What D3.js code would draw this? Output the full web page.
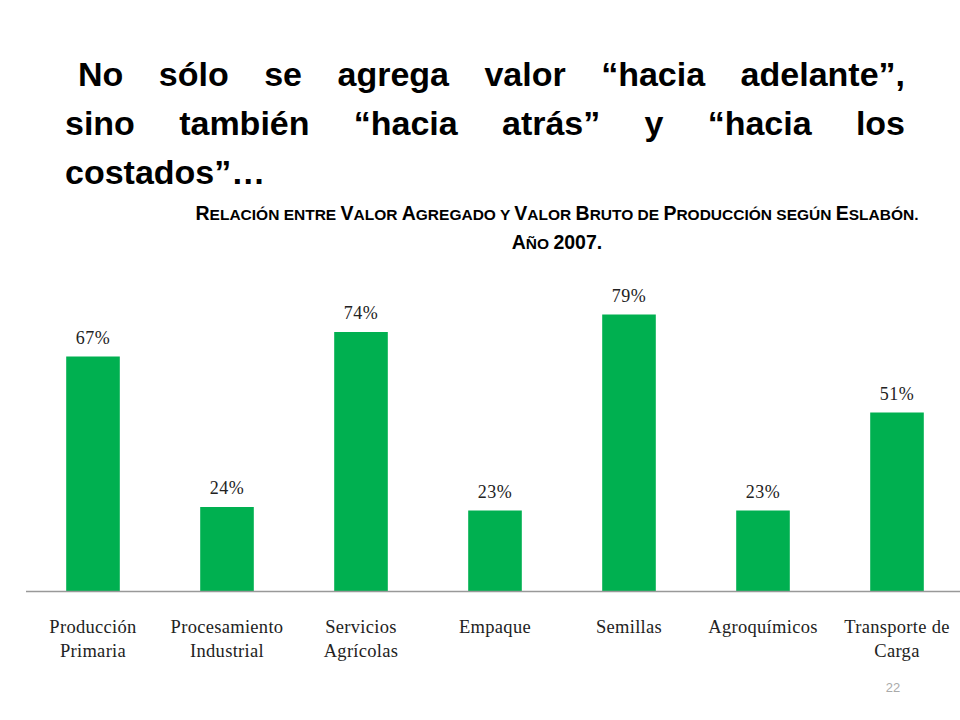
<!DOCTYPE html>
<html><head><meta charset="utf-8">
<script src="https://cdn.jsdelivr.net/npm/d3@7"></script>
<style>body{margin:0;background:#fff}</style>
</head><body>
<svg id="c" width="960" height="720"></svg>
<script>
var categories = [["Producción","Primaria"],["Procesamiento","Industrial"],["Servicios","Agrícolas"],["Empaque"],["Semillas"],["Agroquímicos"],["Transporte de","Carga"]];
var values = [67, 24, 74, 23, 79, 23, 51];

var svg = d3.select("#c");
var TF = 34;

// title, justified lines
var title = [
  {t:["No","sólo","se","agrega","valor","“hacia","adelante”,"], x0:78, x1:905, y:86},
  {t:["sino","también","“hacia","atrás”","y","“hacia","los"], x0:65, x1:905, y:135},
  {t:["costados”…"], x0:65, x1:905, y:184}
];
title.forEach(function(l, li){
  if (li == 2) {
    svg.append("text").attr("x", l.x0).attr("y", l.y).attr("font-family","Liberation Sans, Arial").attr("font-weight","bold").attr("font-size",TF).text(l.t[0]);
    return;
  }
  var widths = l.t.map(function(w){
    var tmp = svg.append("text").attr("font-family","Liberation Sans, Arial").attr("font-weight","bold").attr("font-size",TF).text(w);
    var wd = tmp.node().getComputedTextLength(); tmp.remove(); return wd;
  });
  var gap = (l.x1 - l.x0 - d3.sum(widths)) / (l.t.length - 1);
  var x = l.x0;
  l.t.forEach(function(w, i){
    svg.append("text").attr("x", x).attr("y", l.y).attr("font-family","Liberation Sans, Arial").attr("font-weight","bold").attr("font-size",TF).text(w);
    x += widths[i] + gap;
  });
});

// subtitle small caps
function smallCaps(y, parts){
  var t = svg.append("text").attr("x",557).attr("y",y).attr("text-anchor","middle")
    .attr("font-family","Liberation Sans, Arial").attr("font-weight","bold").attr("fill","#000");
  parts.forEach(function(p){
    t.append("tspan").attr("font-size",19.5).text(p[0]);
    if (p[1]) t.append("tspan").attr("font-size",15.5).text(p[1].toUpperCase());
  });
}
smallCaps(220, [["R","elación entre "],["V","alor "],["A","gregado y "],["V","alor "],["B","ruto de "],["P","roducción según "],["E","slabón."]]);
smallCaps(249, [["A","ño "],["2007.",""]]);

var x = d3.scaleBand().domain(d3.range(values.length)).range([26, 964]).paddingInner(0.6).paddingOuter(0.3);
var y = d3.scaleLinear().domain([0, 80]).range([591, 311]);

svg.selectAll("rect.bar").data(values).enter().append("rect")
  .attr("x", function(d,i){ return x(i); }).attr("width", x.bandwidth())
  .attr("y", function(d){ return y(d); }).attr("height", function(d){ return y(0) - y(d); })
  .attr("fill", "#00b050");

svg.selectAll("text.val").data(values).enter().append("text")
  .attr("x", function(d,i){ return x(i) + x.bandwidth()/2; })
  .attr("y", function(d){ return y(d) - 13; })
  .attr("text-anchor","middle").attr("font-family","Liberation Serif, Times New Roman").attr("font-size",18).attr("letter-spacing",0.5).attr("fill","#222")
  .text(function(d){ return d + "%"; });

svg.append("line").attr("x1",26).attr("x2",960).attr("y1",591.5).attr("y2",591.5).attr("stroke","#999").attr("stroke-width",1.5);

categories.forEach(function(c, i){
  var t = svg.append("text").attr("x", x(i) + x.bandwidth()/2).attr("y", 633).attr("text-anchor","middle")
    .attr("font-family","Liberation Serif, Times New Roman").attr("font-size",18.5).attr("letter-spacing",0.3).attr("fill","#222");
  c.forEach(function(s, j){
    t.append("tspan").attr("x", x(i) + x.bandwidth()/2).attr("dy", j ? 24 : 0).text(s);
  });
});

svg.append("text").attr("x",893).attr("y",692).attr("text-anchor","middle").attr("font-family","Liberation Sans, Arial").attr("font-size",13).attr("fill","#aaa").text("22");
</script>
</body></html>
